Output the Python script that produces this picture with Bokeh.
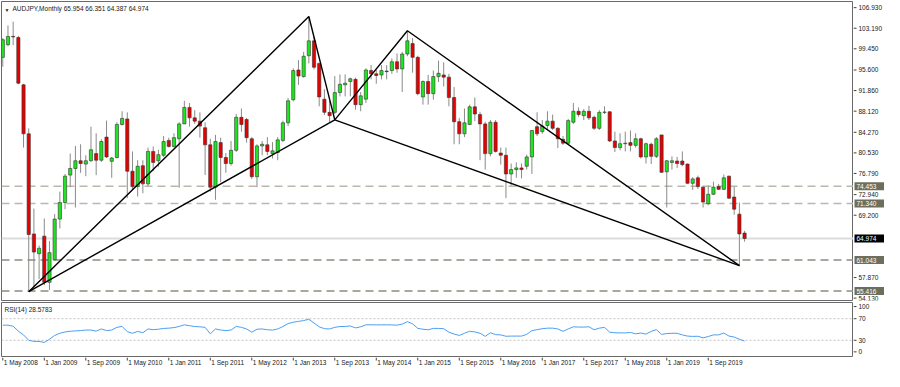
import pandas as pd
from bokeh.plotting import figure
from bokeh.models import Range1d, Label, Span, ColumnDataSource
from bokeh.layouts import column, row
from bokeh.embed import file_html
from bokeh.resources import INLINE

# ---------------- data ----------------
symbol = "AUDJPY"
timeframe = "Monthly"
start_month = "2008-05-01"

opens = [97.9, 100.2, 101.7, 101.5, 92.9, 84.0, 65.8, 62.2, 65.4, 57.0,
         61.1, 68.5, 71.5, 76.5, 77.7, 79.1, 78.5, 79.1, 80.4, 79.2,
         83.4, 79.0, 79.7, 85.7, 86.7, 77.2, 74.4, 78.2, 74.9, 80.8,
         79.1, 80.1, 82.8, 81.7, 83.1, 85.8, 88.8, 86.9, 86.3, 85.1,
         82.0, 74.3, 82.4, 79.7, 78.6, 81.0, 87.0, 86.6, 83.1, 76.2,
         81.8, 82.0, 80.4, 80.6, 82.8, 86.0, 90.2, 95.6, 94.4, 98.2,
         100.9, 96.8, 90.3, 87.9, 87.9, 91.5, 92.9, 93.5, 93.9, 89.3,
         90.3, 95.5, 94.9, 94.7, 95.4, 95.5, 97.1, 95.8, 98.5, 100.4,
         97.9, 90.7, 93.5, 91.3, 94.4, 94.7, 94.3, 90.6, 86.2, 84.0,
         85.7, 88.9, 87.5, 85.8, 80.4, 86.1, 80.5, 80.1, 76.7, 77.5,
         77.8, 78.1, 79.8, 85.3, 84.4, 85.5, 86.3, 85.0, 83.0, 82.3,
         86.1, 88.1, 87.3, 88.1, 87.0, 85.0, 87.9, 88.0, 82.7, 81.5,
         82.2, 82.4, 81.9, 83.1, 79.8, 82.1, 79.9, 83.8, 77.1, 78.8,
         79.05, 79.05, 78.5, 75.0, 76.0, 74.3, 71.3, 73.0, 74.4, 73.9,
         76.3, 72.5, 69.4, 65.954]
highs = [101.4, 103.7, 104.4, 101.8, 93.1, 85.0, 70.4, 63.7, 68.6, 64.5,
         69.4, 73.5, 76.7, 80.4, 81.8, 82.1, 80.1, 85.3, 84.1, 83.0,
         86.4, 79.8, 86.1, 88.1, 87.9, 80.8, 79.2, 79.2, 81.5, 81.7,
         81.1, 83.6, 83.3, 84.1, 86.1, 90.0, 89.6, 88.3, 87.9, 86.1,
         83.1, 83.8, 83.3, 80.5, 82.7, 87.6, 88.6, 86.9, 83.4, 82.1,
         82.7, 83.4, 82.5, 83.4, 86.4, 90.5, 95.9, 97.4, 98.9, 105.3,
         101.6, 96.9, 92.1, 90.0, 94.5, 94.8, 94.8, 94.2, 94.2, 91.6,
         95.9, 96.5, 95.6, 96.5, 96.5, 97.7, 98.6, 98.9, 102.7, 101.4,
         98.2, 93.7, 94.7, 95.5, 97.3, 97.0, 94.9, 92.5, 86.9, 88.6,
         89.3, 90.6, 88.0, 86.2, 86.5, 86.5, 81.5, 81.5, 78.6, 78.8,
         78.6, 80.2, 84.7, 87.9, 86.5, 88.1, 87.5, 85.2, 83.6, 86.7,
         89.6, 88.8, 88.5, 89.1, 87.3, 88.3, 89.0, 88.1, 84.4, 84.1,
         84.4, 84.6, 84.1, 83.3, 82.4, 82.4, 83.4, 83.8, 79.2, 79.9,
         79.8, 80.8, 78.6, 76.1, 76.4, 74.6, 74.6, 75.3, 74.9, 76.6,
         76.4, 74.4, 71.5, 66.351]
lows = [96.2, 99.9, 100.1, 93.0, 81.5, 55.3, 56.2, 57.6, 56.5, 55.6,
        60.9, 66.8, 70.3, 74.3, 70.6, 76.9, 76.3, 78.9, 76.5, 78.9,
        79.6, 76.0, 79.5, 85.5, 72.3, 73.8, 72.6, 73.2, 74.5, 77.2,
        78.0, 79.8, 81.5, 81.5, 74.2, 85.8, 85.3, 85.8, 83.3, 76.5,
        73.5, 72.0, 75.2, 76.9, 78.2, 80.7, 84.4, 82.4, 75.8, 74.3,
        80.1, 80.1, 79.5, 79.2, 82.5, 85.4, 89.9, 92.9, 94.2, 96.8,
        95.7, 89.0, 87.4, 86.1, 87.6, 90.8, 90.8, 90.8, 88.4, 88.1,
        89.6, 93.9, 93.1, 93.9, 93.9, 94.9, 95.1, 91.6, 98.1, 95.1,
        91.0, 89.3, 89.3, 90.2, 93.4, 92.6, 89.0, 82.1, 82.1, 83.4,
        85.6, 86.3, 79.2, 77.5, 79.9, 80.6, 78.4, 72.3, 74.6, 76.0,
        75.9, 77.5, 76.7, 83.6, 84.0, 84.9, 84.7, 81.4, 82.0, 82.0,
        85.8, 87.1, 86.5, 86.5, 84.7, 84.7, 87.6, 82.5, 80.7, 81.0,
        80.8, 80.8, 81.5, 79.5, 78.6, 78.5, 79.6, 76.9, 70.6, 77.5,
        77.8, 78.1, 74.9, 73.8, 74.0, 70.6, 71.0, 72.9, 73.8, 73.8,
        72.2, 69.3, 59.9, 64.387]
closes = [101.1, 101.7, 101.6, 93.2, 84.0, 65.7, 62.5, 63.2, 57.0, 62.4,
          68.5, 71.5, 76.3, 77.7, 79.1, 78.6, 79.1, 81.1, 79.2, 82.6,
          79.8, 79.6, 85.7, 86.8, 77.2, 74.4, 78.1, 74.9, 80.8, 78.8,
          80.2, 82.6, 81.7, 83.3, 85.8, 88.8, 86.9, 86.3, 85.4, 82.0,
          74.3, 82.6, 79.7, 78.6, 81.0, 87.0, 85.7, 83.3, 76.2, 81.8,
          82.1, 80.8, 80.9, 82.9, 86.0, 90.0, 95.5, 94.5, 98.1, 100.9,
          96.1, 90.7, 87.9, 87.3, 91.5, 93.0, 93.2, 94.0, 89.3, 90.9,
          95.6, 94.9, 94.6, 95.5, 95.3, 97.1, 95.8, 98.5, 100.9, 97.9,
          91.3, 93.5, 91.3, 94.4, 95.0, 94.3, 90.6, 86.2, 84.0, 86.0,
          88.9, 87.6, 85.8, 80.4, 86.1, 80.8, 80.1, 76.7, 77.5, 77.8,
          77.5, 79.8, 84.6, 84.0, 85.4, 86.3, 85.0, 83.1, 82.3, 86.4,
          88.1, 87.5, 88.1, 86.9, 85.0, 87.9, 87.95, 82.7, 81.5, 82.2,
          82.3, 81.9, 83.1, 79.8, 82.2, 79.9, 83.1, 77.0, 79.1, 79.1,
          78.6, 78.4, 75.0, 75.8, 74.4, 71.6, 73.0, 74.3, 73.9, 76.0,
          72.3, 70.3, 65.8, 64.974]
rsi14 = [58, 58, 56, 47, 40, 30, 28, 28, 26, 32,
         39, 43, 45.5, 46.7, 47.5, 48, 49, 49, 47, 51,
         48, 49, 54, 55.7, 46, 43, 46.5, 44, 51, 49.7,
         50.5, 52, 52.5, 53.5, 55.7, 58.7, 57, 55.5, 55, 54,
         42, 51, 49, 48, 49, 55.7, 54, 51, 45, 50.5,
         51, 49.5, 49, 51, 55.5, 61, 63.5, 65, 66.5, 69,
         62, 55, 51.5, 51, 54, 55.5, 55.7, 56.5, 53, 55,
         58.7, 58.7, 58.5, 58.7, 58.7, 58.5, 58, 60, 64.6, 60.5,
         52, 50.5, 49.5, 52, 52, 51.5, 45, 41.5, 39, 43,
         46.7, 45.5, 43, 37.3, 44, 40.5, 40, 37.5, 37.8, 37.8,
         37.8, 41, 48, 49.7, 51.5, 52.5, 52.5, 51, 46.7, 51,
         55, 54.5, 54.5, 55, 49.5, 52.5, 54, 45, 44, 43.7,
         43.7, 44.5, 42, 43.5, 41.5, 46.5, 49.7, 41, 42.5, 43,
         43, 40, 37.8, 37.2, 37.5, 34.5, 37, 40, 40, 43.5,
         37.8, 36, 32, 28.5783]

price_ticks = [106.930, 103.190, 99.450, 95.600, 91.860, 88.120, 84.270,
               80.530, 76.790, 72.940, 69.200, 57.870, 54.130]
levels = [74.453, 71.340, 61.043, 55.416]
last_price = 64.974
rsi_levels = [70, 30]
rsi_tick_labels = ["100", "70", "30", "0"]

# harmonic pattern pivots X, A, B, C, D
pattern_dates = ["2008-10-01", "2013-04-01", "2013-09-01", "2014-11-01", "2020-03-01"]
pattern_prices = [55.30, 105.32, 86.54, 102.73, 60.04]

# ---------------- styles ----------------
FONT = "Liberation Sans"
FS = "6.5px"
TXT = "#202020"
BULL = "#1ee61e"
BEAR = "#e60000"
OUTLINE = "#333333"
WICK = "#8a8a8a"
LEVEL_COLORS = ["#b9b9ae", "#b9b9ae", "#8c8c80", "#8c8c80"]
BADGE = "#6e6e5c"
FRAME = "#6a6a6a"
FW, FH1, FH2, FH3 = 852, 299, 54, 14
RIGHT = 31
# MT4 draws the 0/100 scale labels slightly inside the indicator window
rsi_label_pos = [92.5, 70, 30, 8.6]

n = len(closes)
dates = pd.date_range(start_month, periods=n, freq="MS")
idx = list(range(n))
d0 = dates[0]


def month_index(s):
    d = pd.Timestamp(s)
    return (d.year - d0.year) * 12 + d.month - d0.month


src = ColumnDataSource(dict(
    x=idx, low=lows, high=highs,
    top=[max(o, c) for o, c in zip(opens, closes)],
    bottom=[min(o, c) for o, c in zip(opens, closes)],
    color=[BULL if c >= o else BEAR for o, c in zip(opens, closes)],
))

xr = Range1d(-0.25, 164.0)
yr1 = Range1d(53.70, 108.05)
yr2 = Range1d(0, 100)


def make(fw, fh, x_range, y_range, outline=True, left=0, right=0, top=1, bottom=1):
    p = figure(frame_width=fw, frame_height=fh, x_range=x_range, y_range=y_range,
               output_backend="svg", toolbar_location=None,
               x_axis_location=None, y_axis_location=None,
               min_border_left=left, min_border_right=right,
               min_border_top=top, min_border_bottom=bottom)
    p.xgrid.visible = False
    p.ygrid.visible = False
    p.outline_line_color = FRAME if outline else None
    p.background_fill_color = "white"
    p.border_fill_color = "white"
    return p


def scale_strip(fh, y_range, ticks, labels):
    s = make(RIGHT, fh, Range1d(0, RIGHT), y_range, outline=False)
    s.segment(x0=0, x1=3, y0=ticks, y1=ticks, line_color="#404040", line_width=1)
    s.text(x=5, y=ticks, text=labels, text_font_size=FS,
           text_font={"value": FONT}, text_color=TXT,
           text_baseline="middle", text_align="left")
    return s


# ---------------- main price panel ----------------
p1 = make(FW, FH1, xr, yr1, left=1)

for lv, col in zip(levels, LEVEL_COLORS):
    p1.add_layout(Span(location=lv, dimension="width", line_color=col,
                       line_dash="8 5", line_width=1.5, level="underlay"))
p1.add_layout(Span(location=last_price, dimension="width",
                   line_color="#dcdcdc", line_width=2, level="underlay"))

p1.segment(x0="x", y0="low", x1="x", y1="high", source=src,
           line_color=WICK, line_width=1)
p1.vbar(x="x", width=0.62, top="top", bottom="bottom", source=src,
        fill_color="color", line_color=OUTLINE, line_width=0.6)

px = [month_index(d) for d in pattern_dates]
p1.line(px, pattern_prices, line_color="black", line_width=1.4)
p1.segment(x0=[px[0], px[2]], y0=[pattern_prices[0], pattern_prices[2]],
           x1=[px[2], px[4]], y1=[pattern_prices[2], pattern_prices[4]],
           line_color="black", line_width=1.4)

header = f"{symbol},{timeframe}  {opens[-1]:.3f} {highs[-1]:.3f} {lows[-1]:.3f} {closes[-1]:.3f}"
p1.add_layout(Label(x=3, y=FH1 - 5, x_units="screen", y_units="screen",
                    text="\u25BC", text_font=FONT, text_font_size="5px",
                    text_baseline="top", text_color=TXT))
p1.add_layout(Label(x=11, y=FH1 - 3, x_units="screen", y_units="screen",
                    text=header, text_font=FONT, text_font_size=FS,
                    text_baseline="top", text_color=TXT))

# price scale with level badges
pr = scale_strip(FH1, yr1, price_ticks, [f"{t:.3f}" for t in price_ticks])
badge_y = levels + [last_price]
badge_col = [BADGE] * len(levels) + ["black"]
pr.rect(x=16, y=badge_y, width=30, height=8, width_units="screen",
        height_units="screen", fill_color=badge_col, line_color=None)
pr.text(x=3, y=badge_y, text=[f"{v:.3f}" for v in badge_y],
        text_font_size=FS, text_font={"value": FONT}, text_color="white",
        text_baseline="middle", text_align="left")

# ---------------- RSI panel ----------------
p2 = make(FW, FH2, xr, yr2, left=1)
for lv in rsi_levels:
    p2.add_layout(Span(location=lv, dimension="width", line_color="#c4c4c4",
                       line_dash="2 2", line_width=1, level="underlay"))
p2.line(idx, rsi14, line_color="#4a9ff5", line_width=1)
p2.add_layout(Label(x=3, y=FH2 - 3, x_units="screen", y_units="screen",
                    text=f"RSI(14) {rsi14[-1]:.4f}", text_font=FONT,
                    text_font_size=FS, text_baseline="top", text_color=TXT))
p2r = scale_strip(FH2, yr2, rsi_label_pos, rsi_tick_labels)

# ---------------- time scale strip (bottom) ----------------
tick_idx = list(range(0, n, 8))
tick_labels = [f"1 {dates[i]:%b %Y}" for i in tick_idx]
p3 = make(FW, FH3, xr, Range1d(0, FH3), outline=False, left=1, right=RIGHT,
          top=0, bottom=0)
p3.segment(x0=tick_idx, x1=tick_idx, y0=FH3, y1=FH3 - 3,
           line_color="#404040", line_width=1)
p3.text(x=tick_idx, y=FH3 - 1.5, text=tick_labels, x_offset=1,
        text_font_size=FS, text_font={"value": FONT}, text_color=TXT,
        text_baseline="top", text_align="left")

layout = column(row(p1, pr, spacing=0), row(p2, p2r, spacing=0), p3, spacing=0)
open("out.html", "w").write(file_html(layout, INLINE))
